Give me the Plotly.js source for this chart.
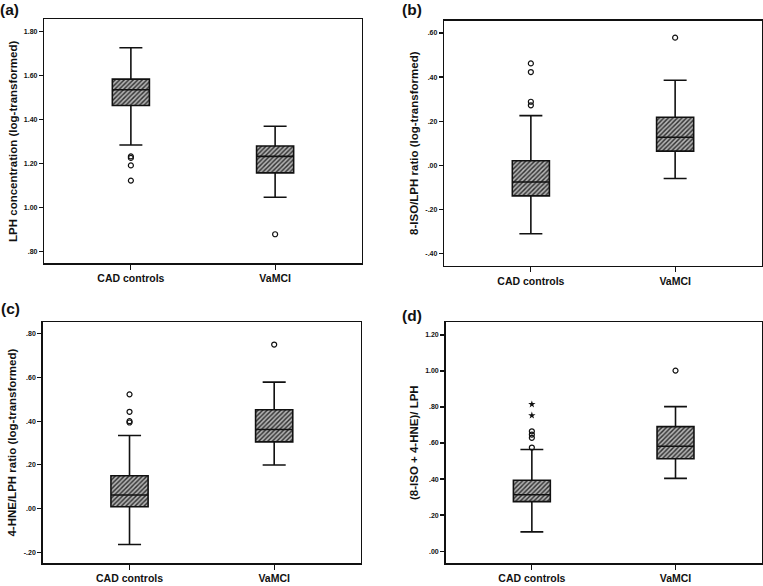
<!DOCTYPE html>
<html>
<head>
<meta charset="utf-8">
<script src="https://cdn.plot.ly/plotly-3.0.1.min.js"></script>
<style>html,body{margin:0;padding:0;background:#fff;}#chart{width:763px;height:586px;}</style>
</head>
<body>
<div id="chart"></div>
<script>
// ---- data ----
var groups = ['CAD controls', 'VaMCI'];

// (a) LPH concentration (log-transformed)
var aLower = [1.285, 1.047];
var aQ1    = [1.464, 1.158];
var aMed   = [1.536, 1.233];
var aQ3    = [1.584, 1.280];
var aUpper = [1.727, 1.370];
var aOutCAD = [1.233, 1.226, 1.192, 1.123];
var aOutVa  = [0.879];
var aTickVals = [0.8, 1.0, 1.2, 1.4, 1.6, 1.8];
var aTickText = ['.80', '1.00', '1.20', '1.40', '1.60', '1.80'];

// (b) 8-ISO/LPH ratio (log-transformed)
var bLower = [-0.311, -0.060];
var bQ1    = [-0.139, 0.064];
var bMed   = [-0.076, 0.127];
var bQ3    = [0.020, 0.218];
var bUpper = [0.225, 0.386];
var bOutCAD = [0.462, 0.423, 0.288, 0.272];
var bOutVa  = [0.579];
var bTickVals = [-0.4, -0.2, 0, 0.2, 0.4, 0.6];
var bTickText = ['-.40', '-.20', '.00', '.20', '.40', '.60'];

// (c) 4-HNE/LPH ratio (log-transformed)
var cLower = [-0.165, 0.199];
var cQ1    = [0.008, 0.305];
var cMed   = [0.062, 0.362];
var cQ3    = [0.150, 0.452];
var cUpper = [0.334, 0.579];
var cOutCAD = [0.523, 0.443, 0.400, 0.394];
var cOutVa  = [0.751];
var cTickVals = [-0.2, 0, 0.2, 0.4, 0.6, 0.8];
var cTickText = ['-.20', '.00', '.20', '.40', '.60', '.80'];

// (d) (8-ISO + 4-HNE)/ LPH
var dLower = [0.107, 0.404];
var dQ1    = [0.275, 0.513];
var dMed   = [0.313, 0.582];
var dQ3    = [0.393, 0.691];
var dUpper = [0.564, 0.802];
var dOutCAD = [0.575, 0.629, 0.647, 0.665];
var dExtCAD = [0.815, 0.753];
var dOutVa  = [1.002];
var dTickVals = [0, 0.2, 0.4, 0.6, 0.8, 1.0, 1.2];
var dTickText = ['.00', '.20', '.40', '.60', '.80', '1.00', '1.20'];

// ---- styles ----
var FONT = 'Liberation Sans, Arial, sans-serif';
var BOXW = 0.257;
var traces = [];

function panel(xa, ya, lower, q1, med, q3, upper, outCAD, outVa, extCAD) {
  traces.push({
    type: 'bar', x: groups, base: q1,
    y: q3.map(function (v, i) { return v - q1[i]; }),
    width: BOXW, xaxis: xa, yaxis: ya, hoverinfo: 'skip', showlegend: false,
    marker: { color: '#a8a8a8', line: { width: 0 },
      pattern: { shape: '/', bgcolor: '#b4b4b4', fgcolor: '#303030', size: 3.2, solidity: 0.45 } }
  });
  traces.push({
    type: 'box', x: groups, q1: q1, median: med, q3: q3,
    lowerfence: lower, upperfence: upper, boxpoints: false,
    width: BOXW, whiskerwidth: 0.62, xaxis: xa, yaxis: ya, showlegend: false,
    fillcolor: 'rgba(0,0,0,0)', line: { color: '#111', width: 1.6 }
  });
  traces.push({
    type: 'scatter', mode: 'markers', xaxis: xa, yaxis: ya, showlegend: false,
    x: outCAD.map(function () { return groups[0]; }).concat(outVa.map(function () { return groups[1]; })),
    y: outCAD.concat(outVa),
    marker: { symbol: 'circle-open', size: 5, color: '#111', line: { width: 1.2, color: '#111' } }
  });
  if (extCAD) {
    traces.push({
      type: 'scatter', mode: 'markers', xaxis: xa, yaxis: ya, showlegend: false,
      x: extCAD.map(function () { return groups[0]; }), y: extCAD,
      marker: { symbol: 'star', size: 5.5, color: '#111' }
    });
  }
}
panel('x', 'y', aLower, aQ1, aMed, aQ3, aUpper, aOutCAD, aOutVa);
panel('x2', 'y2', bLower, bQ1, bMed, bQ3, bUpper, bOutCAD, bOutVa);
panel('x3', 'y3', cLower, cQ1, cMed, cQ3, cUpper, cOutCAD, cOutVa);
panel('x4', 'y4', dLower, dQ1, dMed, dQ3, dUpper, dOutCAD, dOutVa, dExtCAD);

function xAxis(domain, anchor) {
  return {
    domain: domain, anchor: anchor, type: 'category', range: [-0.6, 1.6],
    showline: true, linecolor: '#111', linewidth: 1.5, mirror: true,
    ticks: 'outside', ticklen: 5, tickwidth: 1.2, tickcolor: '#111',
    showgrid: false, zeroline: false, fixedrange: true,
    tickfont: { family: FONT, size: 10.5, color: '#111', weight: 'bold' }
  };
}
function yAxis(domain, anchor, range, vals, text, title) {
  return {
    domain: domain, anchor: anchor, range: range,
    tickmode: 'array', tickvals: vals, ticktext: text,
    showline: true, linecolor: '#111', linewidth: 1.5, mirror: true,
    ticks: 'outside', ticklen: 4, tickwidth: 1.2, tickcolor: '#111',
    showgrid: false, zeroline: false, fixedrange: true,
    tickfont: { family: FONT, size: 7, color: '#111', weight: 'bold' },
    title: { text: title, standoff: 4, font: { family: FONT, size: 11.5, color: '#111', weight: 'bold' } }
  };
}

var layout = {
  width: 763, height: 586,
  margin: { l: 0, r: 0, t: 0, b: 0 },
  paper_bgcolor: '#fff', plot_bgcolor: '#fff',
  barmode: 'overlay', boxmode: 'overlay', showlegend: false,
  xaxis: xAxis([0.0581, 0.474], 'y'),
  yaxis: yAxis([0.5507, 0.967], 'x', [0.747, 1.856], aTickVals, aTickText, 'LPH concentration (log-transformed)'),
  xaxis2: xAxis([0.5823, 0.9983], 'y2'),
  yaxis2: yAxis([0.5466, 0.9647], 'x2', [-0.456, 0.656], bTickVals, bTickText, '8-ISO/LPH ratio (log-transformed)'),
  xaxis3: xAxis([0.056, 0.4731], 'y3'),
  yaxis3: yAxis([0.0392, 0.45], 'x3', [-0.25, 0.853], cTickVals, cTickText, '4-HNE/LPH ratio (log-transformed)'),
  xaxis4: xAxis([0.5841, 0.9983], 'y4'),
  yaxis4: yAxis([0.0392, 0.45], 'x4', [-0.066, 1.27], dTickVals, dTickText, '(8-ISO + 4-HNE)/ LPH'),
  annotations: [
    { text: '(a)', x: 9.5 / 763, y: 1 - 9.5 / 586 },
    { text: '(b)', x: 411.7 / 763, y: 1 - 9 / 586 },
    { text: '(c)', x: 10 / 763, y: 1 - 308 / 586 },
    { text: '(d)', x: 411.7 / 763, y: 1 - 315 / 586 }
  ].map(function (a) {
    return { text: a.text, x: a.x, y: a.y, xref: 'paper', yref: 'paper',
      xanchor: 'center', yanchor: 'middle', showarrow: false,
      font: { family: FONT, size: 15.5, color: '#111', weight: 'bold' } };
  })
};

Plotly.newPlot('chart', traces, layout, { staticPlot: true, displayModeBar: false });
</script>
</body>
</html>
